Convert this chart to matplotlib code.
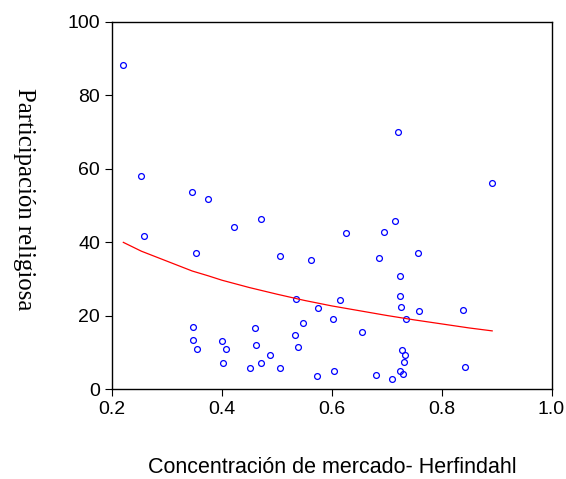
import matplotlib
matplotlib.use('Agg')
import matplotlib.pyplot as plt

# scatter points
herfindahl = [0.2206, 0.2534, 0.346, 0.375, 0.7206, 0.892, 0.2577, 0.4226, 0.4718,
              0.3535, 0.5064, 0.5628, 0.5355, 0.5744, 0.6029, 0.6146, 0.3469, 0.4609,
              0.5471, 0.3474, 0.3997, 0.4627, 0.5325, 0.3547, 0.4069, 0.5391, 0.4882,
              0.4026, 0.4718, 0.4512, 0.5064, 0.5737, 0.6046, 0.7157, 0.6254, 0.6957,
              0.757, 0.6866, 0.7248, 0.7237, 0.7266, 0.7588, 0.8395, 0.7351, 0.6545,
              0.7284, 0.7327, 0.7315, 0.8425, 0.7242, 0.68, 0.7302, 0.7102]
participacion = [88.3, 58.2, 53.7, 51.8, 70.0, 56.2, 41.8, 44.3, 46.4,
                 37.0, 36.3, 35.1, 24.5, 22.2, 19.2, 24.4, 16.9, 16.7,
                 18.0, 13.5, 13.2, 12.1, 14.8, 11.0, 11.0, 11.6, 9.3,
                 7.2, 7.1, 5.9, 5.8, 3.5, 4.9, 45.8, 42.5, 42.8,
                 37.1, 35.8, 30.9, 25.5, 22.5, 21.2, 21.7, 19.0, 15.5,
                 10.8, 9.3, 7.5, 6.0, 5.1, 4.0, 4.1, 2.7]

# fitted curve (red), read at a few x positions
fit_x = [0.2206, 0.2534, 0.346, 0.375, 0.4, 0.45, 0.5, 0.55, 0.6, 0.65,
         0.7, 0.75, 0.8, 0.85, 0.892]
fit_y = [40.0, 37.6, 32.2, 30.9, 29.7, 27.7, 25.9, 24.2, 22.7, 21.4,
         20.1, 18.9, 17.8, 16.7, 15.9]

fig = plt.figure(figsize=(5.66, 4.79), dpi=100)
ax = fig.add_axes([0.1979, 0.1873, 0.9744 - 0.1979, 0.9541 - 0.1873])

ax.plot(herfindahl, participacion, 'o', markersize=4.2, markerfacecolor='none',
        markeredgecolor='#0000ff', markeredgewidth=0.9, linestyle='none')
ax.plot(fit_x, fit_y, color='#ff0000', linewidth=0.9)

ax.set_xlim(0.2, 1.0)
ax.set_ylim(0, 100)
ax.set_xticks([0.2, 0.4, 0.6, 0.8, 1.0])
ax.set_yticks([0, 20, 40, 60, 80, 100])
ax.tick_params(direction='out', length=5, width=0.8, labelsize=14)
for lab in ax.get_xticklabels() + ax.get_yticklabels():
    lab.set_family('Liberation Sans')
for s in ax.spines.values():
    s.set_linewidth(1.0)

fig.text(0.042, 0.585, 'Participación religiosa', rotation=-90, ha='center', va='center',
         family='Liberation Serif', fontsize=17.8)
fig.text(0.587, 0.025, 'Concentración de mercado- Herfindahl', ha='center', va='center',
         family='Liberation Sans', fontsize=15.5)

fig.savefig('out.png', dpi=100)
